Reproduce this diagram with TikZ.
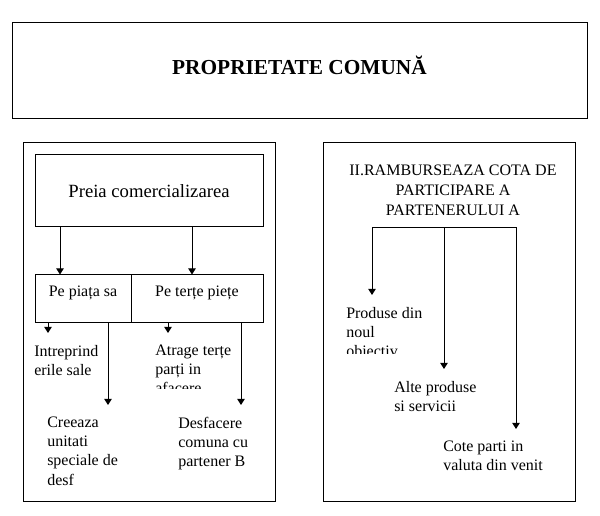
\documentclass[tikz,border=0pt]{standalone}
\usepackage{fontspec}
\setmainfont{Liberation Serif}
\usetikzlibrary{arrows.meta}
\tikzset{
  box/.style={draw, line width=.75pt, inner sep=0pt},
  arr/.style={-{Triangle[width=5.5pt,length=4.5pt]}, line width=.75pt},
  txt/.style={anchor=north west, align=left, inner xsep=0pt, inner ysep=9pt,
    font=\fontsize{12}{14.3}\selectfont},
  cell/.style={box, minimum height=36pt, text height=8pt, text depth=11.5pt,
    font=\fontsize{12}{14}\selectfont},
}
\begin{document}
\begin{tikzpicture}[x=.75pt,y=-.75pt]
  \useasboundingbox (0,0) rectangle (600,516);
  % titlu
  \node[box, minimum width=431.25pt, minimum height=72pt, text height=11pt, text depth=5pt,
    font=\fontsize{16}{19}\selectfont\bfseries] (titlu) at (299.5,71) {PROPRIETATE COMUNĂ};
  % stanga
  \node[box, minimum width=189pt, minimum height=269.25pt] (stanga) at (149,322.5) {};
  \node[box, minimum width=171pt, minimum height=54pt,
    font=\fontsize{14}{16}\selectfont] (preia) at (149,191) {Preia comercializarea};
  \node[cell, minimum width=72pt] (piata) at (83,299) {Pe piața sa};
  \node[cell, minimum width=99pt] (terte) at (197,299) {Pe terțe piețe};
  \coordinate (a1) at (60,0);
  \coordinate (a2) at (192,0);
  \draw[arr] (preia.south -| a1) -- (piata.north -| a1);
  \draw[arr] (preia.south -| a2) -- (terte.north -| a2);
  \coordinate (t1) at (48,333);
  \coordinate (t2) at (108,405);
  \coordinate (t3) at (168,333);
  \coordinate (t4) at (241,405);
  \draw[arr] (piata.south -| t1) -- (t1);
  \draw[arr] (piata.south -| t2) -- (t2);
  \draw[arr] (terte.south -| t3) -- (t3);
  \draw[arr] (terte.south -| t4) -- (t4);
  \node[txt] (intreprind) at (34,333) {Intreprind\\erile sale};
  \begin{scope}
    \clip (150,333) rectangle (235,389);
    \node[txt] (atrage) at (155,333) {Atrage terțe\\parți in\\afacere};
  \end{scope}
  \node[txt] (creeaza) at (47,405) {Creeaza\\unitati\\speciale de\\desf};
  \node[txt] (desfacere) at (178,405) {Desfacere\\comuna cu\\partener B};
  % dreapta
  \node[box, minimum width=189pt, minimum height=269.25pt] (dreapta) at (449,322.5) {};
  \node[align=center, font=\fontsize{12}{15}\selectfont] (ramb) at (453,190)
    {II.RAMBURSEAZA COTA DE\\PARTICIPARE A\\PARTENERULUI A};
  \coordinate (bara) at (444,228);
  \coordinate (r1) at (372,295);
  \coordinate (r2) at (444,369);
  \coordinate (r3) at (516,429);
  \draw[arr] (bara) -| (r1);
  \draw[arr] (bara) -- (r2);
  \draw[arr] (bara) -| (r3);
  \begin{scope}
    \clip (340,295) rectangle (440,354);
    \node[txt] (produse) at (346,295) {Produse din\\noul\\obiectiv};
  \end{scope}
  \node[txt] (alte) at (394,369) {Alte produse\\si servicii};
  \node[txt] (cote) at (443,429) {Cote parti in\\valuta din venit};
\end{tikzpicture}
\end{document}
